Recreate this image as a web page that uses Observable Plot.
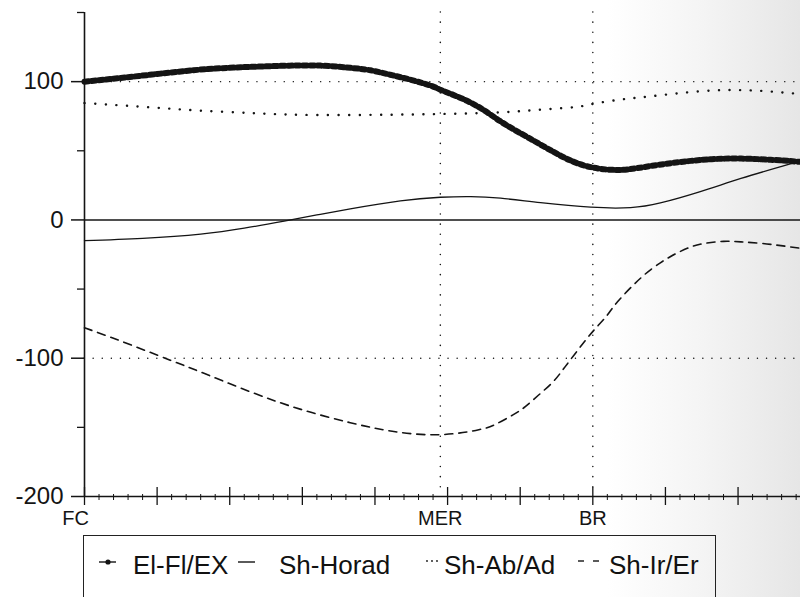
<!DOCTYPE html>
<html><head><meta charset="utf-8">
<script src="https://cdn.jsdelivr.net/npm/d3@7"></script>
<script src="https://cdn.jsdelivr.net/npm/@observablehq/plot@0.6"></script>
<style>
html,body{margin:0;padding:0;width:800px;height:597px;overflow:hidden;background:#fff;}
#wrap{position:relative;width:800px;height:597px;overflow:hidden;font-family:"Liberation Sans",Arial,sans-serif;color:#111;
  background:linear-gradient(to right,#ffffff 0%,#ffffff 76%,#f4f4f4 88%,#e6e6e6 100%);}
#chart{position:absolute;left:0;top:0;}
#legend{position:absolute;left:83px;top:535px;width:633px;height:80px;border:1.5px solid #222;box-sizing:border-box;}
.lt{position:absolute;top:16px;font-size:26px;line-height:26px;white-space:nowrap;}
.lm{position:absolute;top:0;left:0;}
</style></head>
<body><div id="wrap"><div id="chart"></div><div id="legend"></div></div>
<script>
// ---- data (x: % of cycle, y: value) ----
const elX  = [0, 5, 10.5, 16, 21.5, 27, 32.5, 36.6, 39.4, 42.1, 44.9, 47.7, 49, 51.8, 54.5, 56.6, 58.7, 62.8, 66.3, 69.7, 73.8, 78, 83.5, 89, 94.5, 98.6];
const elY  = [100, 102.7, 105.8, 108.7, 110.4, 111.4, 111.6, 110, 108.2, 105, 101.4, 97.1, 94.2, 88.2, 81, 73.7, 66.7, 54.5, 44.5, 38.2, 36.2, 39, 42.7, 44.4, 43.5, 42];
const horX = [0, 8, 16, 22, 27.5, 32, 36.6, 43.5, 49, 53.2, 57.3, 62.8, 69.7, 75.2, 79.3, 84.8, 90.4, 95.9, 98.6];
const horY = [-15, -13.3, -10.3, -6, -0.8, 3.6, 8, 13.8, 16.4, 16.9, 15.7, 12.5, 9.2, 8.9, 12.3, 20.5, 30, 38.6, 42.7];
const abX  = [0, 9.1, 16, 22.9, 29.8, 40, 49, 57.3, 62.8, 67.6, 69.9, 73.8, 78, 84.8, 91.7, 98.6];
const abY  = [84.5, 81.4, 79, 77.3, 76, 76, 76.6, 77.8, 79.7, 81.6, 83.8, 87, 89.4, 93, 93.7, 91];
const irX  = [0, 4.96, 11.8, 16, 22.9, 29.8, 36.6, 42.6, 49, 54.3, 56.6, 59, 60.7, 62.5, 64.5, 66, 67.4, 69, 70.4, 72, 73.4, 76.6, 79.3, 81.4, 83.5, 85.5, 88, 90.4, 93.1, 95.9, 98.6];
const irY  = [-78, -87.5, -101.4, -110, -124.4, -137, -146.6, -153, -155.3, -151.7, -147.8, -141, -135, -126.8, -117.2, -107.5, -97.8, -87, -78.3, -68.8, -59.2, -42, -31, -24.5, -19.5, -16.9, -15.5, -15.9, -16.9, -18.6, -20.5];

const seriesNames = ["El-Fl/EX", "Sh-Horad", "Sh-Ab/Ad", "Sh-Ir/Er"];
const xLabelNames = ["FC", "MER", "BR"];
const xLabelPos   = [0, 49, 70];
const yMajor = [-200, -100, 0, 100];
const yMinor = [-150, -50, 50, 150];
const xMajor = [0, 10, 20, 30, 40, 50, 60, 70, 80, 90];
const xMinor = d3.range(0, 100, 2).filter(v => v % 10 !== 0);
const gridX = [49, 70];
const gridY = [100, -100];

const toRows = (xs, ys) => xs.map((x, i) => ({x, y: ys[i]}));
const el = toRows(elX, elY), hor = toRows(horX, horY), ab = toRows(abX, abY), ir = toRows(irX, irY);
const xLabels = xLabelNames.map((t, i) => ({t, x: xLabelPos[i]}));

const ink = "#141414";
const curve = "natural";
const chart = Plot.plot({
  width: 800, height: 537,
  marginLeft: 84, marginRight: 0, marginTop: 12, marginBottom: 41,
  x: {domain: [0, 98.6], label: null, axis: null},
  y: {domain: [-200, 150], label: null},
  style: {background: "transparent", fontFamily: "'Liberation Sans', Arial, sans-serif", color: ink, overflow: "visible"},
  marks: [
    Plot.ruleY(gridY, {stroke: ink, strokeWidth: 1.4, strokeDasharray: "0.1,9", strokeLinecap: "round"}),
    Plot.ruleX(gridX, {stroke: ink, strokeWidth: 1.5, strokeDasharray: "0.1,10", strokeLinecap: "round"}),
    Plot.ruleY([0], {stroke: ink, strokeWidth: 1.4}),
    Plot.line(ab, {x: "x", y: "y", curve, stroke: ink, strokeWidth: 2.4, strokeDasharray: "0.1,10.5", strokeLinecap: "round"}),
    Plot.line(hor, {x: "x", y: "y", curve, stroke: ink, strokeWidth: 1.3}),
    Plot.line(ir, {x: "x", y: "y", curve, stroke: ink, strokeWidth: 1.6, strokeDasharray: "8,6"}),
    Plot.line(el, {x: "x", y: "y", curve, stroke: ink, strokeWidth: 1.2}),
    Plot.line(el, {x: "x", y: "y", curve, stroke: ink, strokeWidth: 6, strokeDasharray: "4,3.3"}),
    Plot.ruleX([0], {stroke: ink, strokeWidth: 1.6}),
    Plot.ruleY([-200], {stroke: ink, strokeWidth: 1.6}),
    Plot.ruleX(xMajor, {y1: -200, y2: -200, insetTop: -9, insetBottom: -9, stroke: ink, strokeWidth: 1.3}),
    Plot.ruleX(xMinor, {y1: -200, y2: -200, insetTop: -2, insetBottom: -4, stroke: ink, strokeWidth: 1}),
    Plot.axisY({ticks: yMajor, tickSize: 13, tickPadding: 8, fontSize: 24, tickFormat: d => String(d), strokeWidth: 1.5}),
    Plot.axisY({ticks: yMinor, tickSize: 7, tickFormat: () => "", strokeWidth: 1.3}),
    Plot.text(xLabels.slice(0, 1), {x: "x", y: -200, text: "t", dy: 22, dx: -9, fontSize: 20, fill: ink}),
    Plot.text(xLabels.slice(1), {x: "x", y: -200, text: "t", dy: 22, fontSize: 20, fill: ink})
  ]
});
document.getElementById("chart").appendChild(chart);

// ---- legend (below the plot) ----
const legend = document.getElementById("legend");
const ox = 83, oy = 535; // legend box origin in page px
const textLeft = [132, 278, 443, 608];
seriesNames.forEach((name, i) => {
  const s = document.createElement("span");
  s.className = "lt"; s.textContent = name;
  s.style.left = (textLeft[i] - ox) + "px";
  legend.appendChild(s);
});
const ns = "http://www.w3.org/2000/svg";
const svg = document.createElementNS(ns, "svg");
svg.setAttribute("width", 630); svg.setAttribute("height", 60); svg.setAttribute("class", "lm");
svg.innerHTML = `
  <line x1="${98-ox}" x2="${115-ox}" y1="${561-oy}" y2="${561-oy}" stroke="${ink}" stroke-width="1.4"/>
  <circle cx="${107-ox}" cy="${561-oy}" r="2.6" fill="${ink}"/>
  <line x1="${237-ox}" x2="${254-ox}" y1="${561-oy}" y2="${561-oy}" stroke="${ink}" stroke-width="1.4"/>
  <circle cx="${426-ox}" cy="${560-oy}" r="0.9" fill="${ink}"/>
  <circle cx="${431-ox}" cy="${560-oy}" r="0.9" fill="${ink}"/>
  <circle cx="${436-ox}" cy="${560-oy}" r="0.9" fill="${ink}"/>
  <line x1="${577-ox}" x2="${583-ox}" y1="${560-oy}" y2="${560-oy}" stroke="${ink}" stroke-width="1.4"/>
  <line x1="${592-ox}" x2="${598-ox}" y1="${560-oy}" y2="${560-oy}" stroke="${ink}" stroke-width="1.4"/>`;
legend.appendChild(svg);
</script></body></html>
